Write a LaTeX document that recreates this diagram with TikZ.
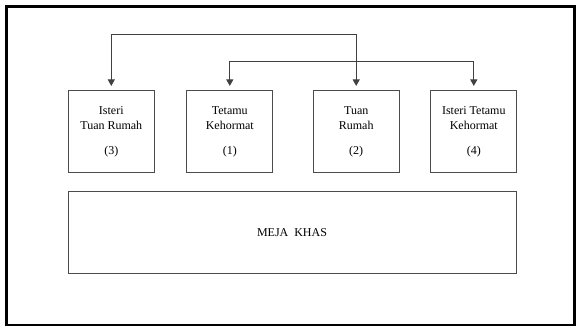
\documentclass[tikz,border=0pt]{standalone}
\usepackage{fontspec}
\setmainfont{Liberation Serif}
\usetikzlibrary{shapes,arrows,arrows.meta}
\tikzset{
  seat/.style={
    draw=black!70,
    line width=0.9pt,
    minimum width=86pt,
    minimum height=82pt,
    inner sep=0pt,
    align=center,
    font=\fontsize{12}{15.3}\selectfont
  },
  link/.style={
    draw=black!75,
    line width=0.9pt,
    {Triangle[width=7pt,length=6.5pt]}-{Triangle[width=7pt,length=6.5pt]},
    shorten >=4.5pt,
    shorten <=4.5pt
  }
}

\begin{document}
\begin{tikzpicture}[x=1pt, y=-1pt]
    \useasboundingbox (0,0) rectangle (577,327);
    \draw [line width=2.2pt] (6.5,6.5) rectangle (574.5,325);

        \node[seat] (isteri) at (111.3,131.9) {Isteri\\Tuan\ Rumah\\[9.7pt](3)};
        \node[seat] (tetamu) at (229.8,131.9) {Tetamu\\Kehormat\\[9.7pt](1)};
        \node[seat] (tuan) at (356.2,131.9) {Tuan\\Rumah\\[9.7pt](2)};
        \node[seat] (isteritetamu) at (473.8,131.9) {Isteri\ Tetamu\\Kehormat\\[9.7pt](4)};

        \node[seat, minimum width=448pt, font=\fontsize{12}{14}\selectfont]
            (meja) at (292,232.8) {MEJA\ \ KHAS};

        \coordinate (upper) at (0,34);
        \coordinate (lower) at (0,61.7);

        \draw[link] (tuan.north) -- (tuan.north |- upper) -| (isteri.north);
        \draw[link] (tetamu.north) -- (tetamu.north |- lower) -| (isteritetamu.north);

\end{tikzpicture}
\end{document}
